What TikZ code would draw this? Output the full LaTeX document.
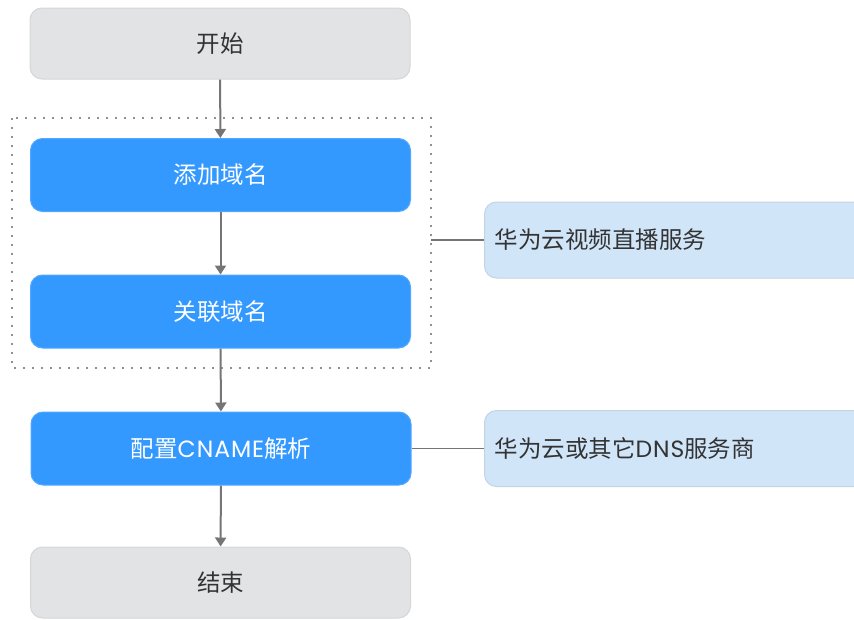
\documentclass[tikz,border=0pt]{standalone}
\usepackage{fontspec}
\setmainfont{Noto Sans CJK SC}
\newfontfamily\latinf{Poppins}[LetterSpace=4]
\usetikzlibrary{arrows.meta,positioning}
\definecolor{grayfill}{HTML}{E1E3E5}
\definecolor{grayline}{HTML}{D4D6D8}
\definecolor{bluefill}{HTML}{3399FF}
\definecolor{lightblue}{HTML}{D1E5F9}
\definecolor{lightline}{HTML}{C4D3E2}
\definecolor{arrowgray}{HTML}{757575}
\definecolor{textgray}{HTML}{333333}
\tikzset{
  boxfont/.style={font=\fontsize{23.5}{28}\selectfont},
  graybox/.style={draw=grayline, line width=1pt, fill=grayfill, rounded corners=12pt,
    minimum width=380pt, minimum height=71pt, text=textgray, boxfont, inner sep=0pt},
  bluebox/.style={draw=bluefill!85!white, line width=1pt, fill=bluefill, rounded corners=12pt,
    minimum width=380pt, minimum height=73pt, text=white, boxfont, inner sep=0pt},
  notebox/.style={draw=lightline, line width=1pt, fill=lightblue, rounded corners=12pt,
    text width=380pt, minimum height=76pt, text=textgray, boxfont,
    inner xsep=10pt, inner ysep=0pt, align=left, anchor=west},
  flow/.style={draw=arrowgray, line width=2pt, -{Triangle[width=11pt,length=9pt]}},
  link/.style={draw=arrowgray, line width=1.5pt},
  dotbox/.style={draw=arrowgray!80, line width=2pt, dash pattern=on 2pt off 7pt}
}
\begin{document}
\begin{tikzpicture}[x=1pt,y=-1pt]
\useasboundingbox (0,0) rectangle (854,619);
\node[graybox] (start) at (220,43.5) {开始};
\node[bluebox] (add) at (220.5,175) {添加域名};
\node[bluebox] (assoc) at (220.5,311.5) {关联域名};
\node[bluebox] (cname) at (221,448.5) {配置{\latinf CNAME}解析};
\node[graybox] (end) at (220.5,582.5) {结束};
\draw[dotbox] (12,118) rectangle (431,368);
\coordinate (grp) at (431,240);
\node[notebox] (live) at (484,240) {华为云视频直播服务};
\node[notebox] (dns) at (484,448.5) {华为云或其它{\latinf DNS}服务商};
\draw[flow] (start) -- (add);
\draw[flow] (add) -- (assoc);
\draw[flow] (assoc) -- (cname);
\draw[flow] (cname) -- (end);
\draw[link] (grp) -- (live.west);
\draw[link] (cname.east) -- (dns.west);
\end{tikzpicture}
\end{document}
